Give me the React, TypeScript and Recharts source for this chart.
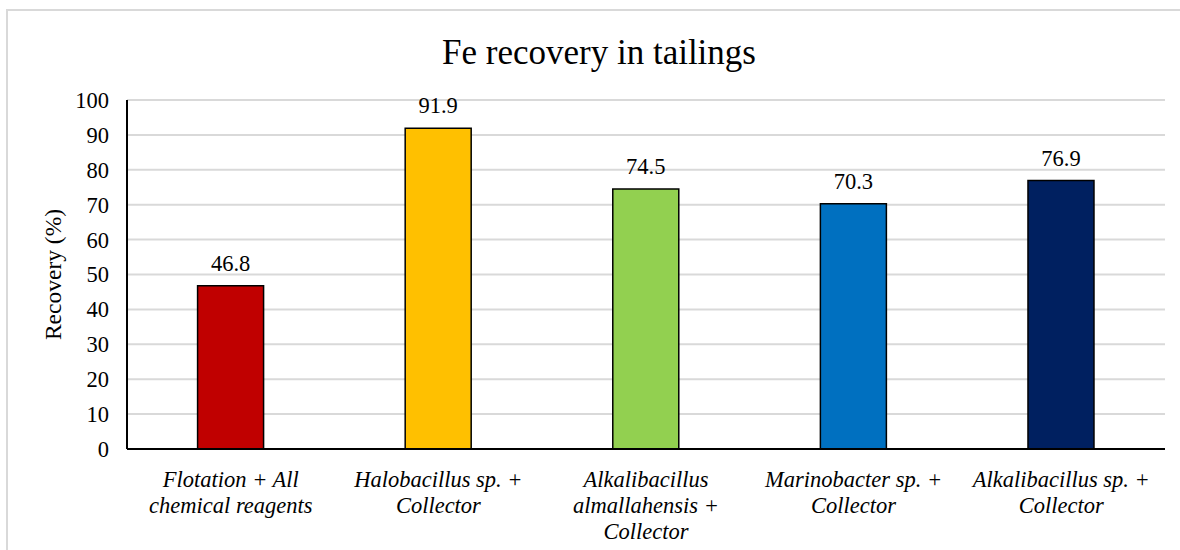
import { Bar, BarChart, CartesianGrid, Cell, LabelList, XAxis, YAxis } from "recharts";

const CATEGORIES = [
  "Flotation + All|chemical reagents",
  "Halobacillus sp. +|Collector",
  "Alkalibacillus|almallahensis +|Collector",
  "Marinobacter sp. +|Collector",
  "Alkalibacillus sp. +|Collector",
];
const RECOVERY = [46.8, 91.9, 74.5, 70.3, 76.9];
const COLORS = ["#C00000", "#FFC000", "#92D050", "#0070C0", "#002060"];
const Y_TICKS = [0, 10, 20, 30, 40, 50, 60, 70, 80, 90, 100];

const FONT = '"Liberation Serif", "Times New Roman", Times, serif';
const GRID = "#d9d9d9";

const data = CATEGORIES.map((name, i) => ({ name, value: RECOVERY[i] }));

function CategoryTick({ x, y, payload }: { x?: number; y?: number; payload?: { value: string } }) {
  const lines = (payload?.value ?? "").split("|");
  return (
    <text x={x} y={(y ?? 0) + 30} textAnchor="middle" className="cat-tick" fill="#000">
      {lines.map((l, i) => (
        <tspan key={i} x={x} dy={i === 0 ? 0 : 26}>
          {l}
        </tspan>
      ))}
    </text>
  );
}

export default function App() {
  return (
    <div style={{ position: "absolute", left: 0, top: 0, width: 1180, height: 550, overflow: "hidden", background: "#fff", fontFamily: FONT }}>
      <style>{`
        .chart svg text, .chart svg tspan { font-family: ${FONT} !important; }
        .chart svg text.cat-tick { font-style: italic; font-size: 22.5px; }
      `}</style>
      <div
        style={{
          position: "absolute",
          left: 6,
          top: 9,
          width: 1200,
          height: 600,
          border: `2px solid ${GRID}`,
        }}
      />
      <div
        style={{
          position: "absolute",
          left: 0,
          top: 33,
          width: 1198,
          textAlign: "center",
          fontSize: 35,
          lineHeight: "normal",
          color: "#000",
        }}
      >
        Fe recovery in tailings
      </div>
      <div className="chart" style={{ position: "absolute", left: 0, top: 0 }}>
        <BarChart
          width={1180}
          height={550}
          data={data}
          margin={{ top: 100, right: 15, bottom: 71, left: 0 }}
          barCategoryGap="34%"
        >
          <CartesianGrid vertical={false} stroke={GRID} strokeWidth={2} />
          <XAxis
            dataKey="name"
            interval={0}
            tick={<CategoryTick />}
            tickLine={false}
            axisLine={{ stroke: "#000", strokeWidth: 2 }}
          />
          <YAxis
            width={127}
            domain={[0, 100]}
            ticks={Y_TICKS}
            interval={0}
            tickLine={false}
            tickMargin={12}
            axisLine={{ stroke: "#000", strokeWidth: 2 }}
            tick={{ fill: "#000", fontSize: 22.5 }}
            label={{
              value: "Recovery (%)",
              angle: -90,
              position: "insideLeft",
              offset: 53,
              style: { fill: "#000", fontSize: 23.5, textAnchor: "middle" },
            }}
          />
          <Bar dataKey="value" stroke="#000" strokeWidth={1.5} isAnimationActive={false}>
            {data.map((_, i) => (
              <Cell key={i} fill={COLORS[i]} />
            ))}
            <LabelList
              dataKey="value"
              position="top"
              offset={15}
              style={{ fill: "#000", fontSize: 22.5 }}
            />
          </Bar>
        </BarChart>
      </div>
    </div>
  );
}
